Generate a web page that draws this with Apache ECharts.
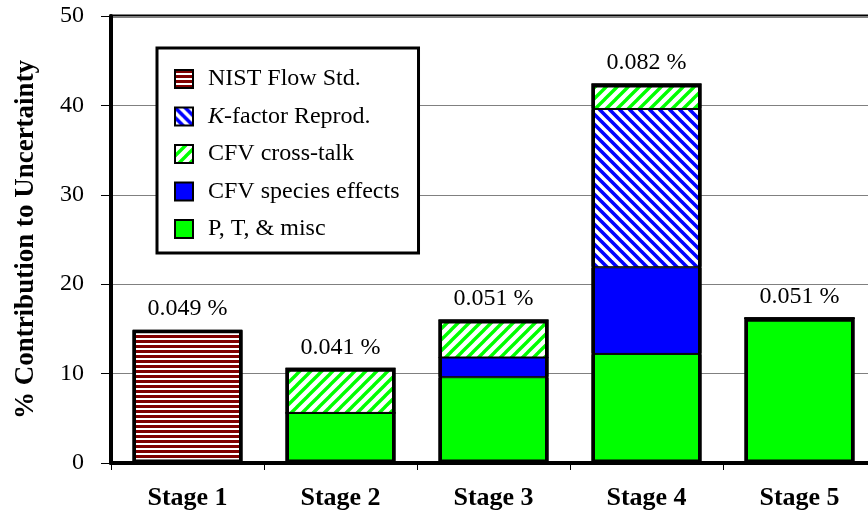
<!DOCTYPE html>
<html>
<head>
<meta charset="utf-8">
<script src="https://cdn.jsdelivr.net/npm/echarts@6/dist/echarts.min.js"></script>
<style>html,body{margin:0;padding:0;background:#fff;}#c{width:868px;height:514px;}</style>
</head>
<body>
<div id="c"></div>
<script>
const categories = ['Stage 1', 'Stage 2', 'Stage 3', 'Stage 4', 'Stage 5'];
const ptMisc     = [0, 5.6, 9.6, 12.2, 16.2];
const cfvSpecies = [0, 0, 2.2, 9.7, 0];
const kFactor    = [0, 0, 0, 17.7, 0];
const crossTalk  = [0, 5.0, 4.2, 2.8, 0];
const nistFlow   = [14.9, 0, 0, 0, 0];
const totalLabels = ['0.049 %', '0.041 %', '0.051 %', '0.082 %', '0.051 %'];
const yTicks = [0, 10, 20, 30, 40, 50];

const totals = categories.map((_, i) => ptMisc[i] + cfvSpecies[i] + kFactor[i] + crossTalk[i] + nistFlow[i]);

function pattern(kind) {
  const c = document.createElement('canvas');
  const ctx = c.getContext('2d');
  if (kind === 'horiz') {
    c.width = 8; c.height = 5;
    ctx.fillStyle = '#ffffff'; ctx.fillRect(0, 0, 8, 5);
    ctx.fillStyle = '#800000'; ctx.fillRect(0, 0, 8, 3);
  } else {
    const s = kind === 'down' ? 10 : 11;
    c.width = s; c.height = s;
    ctx.fillStyle = '#ffffff'; ctx.fillRect(0, 0, s, s);
    ctx.strokeStyle = kind === 'down' ? '#0000ff' : '#00ff00';
    ctx.lineWidth = kind === 'down' ? 3.6 : 3.4;
    ctx.beginPath();
    for (let k = -1; k <= 1; k++) {
      if (kind === 'down') {
        ctx.moveTo(k * s - 1, -1); ctx.lineTo(k * s + s + 1, s + 1);
      } else {
        ctx.moveTo(k * s - 1, s + 1); ctx.lineTo(k * s + s + 1, -1);
      }
    }
    ctx.stroke();
  }
  return { image: c, repeat: 'repeat' };
}

const serif = '"Liberation Serif", "Times New Roman", serif';
const segStyle = (color) => ({ color: color, borderColor: '#000', borderWidth: 1 });
const BW = 110;

const chart = echarts.init(document.getElementById('c'), null, { renderer: 'canvas' });
chart.setOption({
  animation: false,
  backgroundColor: '#fff',
  grid: { left: 111, top: 16, right: -8, bottom: 51, outerBoundsMode: 'none', containLabel: false,
    show: true, borderColor: '#000', borderWidth: 3, backgroundColor: 'transparent' },
  legend: {
    left: 157, top: 48, orient: 'vertical',
    data: ['NIST Flow Std.', 'K-factor Reprod.', 'CFV cross-talk', 'CFV species effects', 'P, T, & misc'],
    backgroundColor: '#fff', borderColor: '#000', borderWidth: 3,
    padding: [19, 19, 12, 17],
    itemWidth: 18, itemHeight: 18, itemGap: 13.5,
    icon: 'rect',
    itemStyle: { borderColor: '#000', borderWidth: 2 },
    textStyle: { fontFamily: serif, fontSize: 24, color: '#000', lineHeight: 24, padding: [0, 0, 0, 10],
      rich: { i: { fontFamily: serif, fontSize: 24, fontStyle: 'italic', color: '#000' }, n: { fontFamily: serif, fontSize: 24, color: '#000' } } },
    formatter: (name) => name === 'K-factor Reprod.' ? '{i|K}{n|-factor Reprod.}' : name
  },
  xAxis: {
    type: 'category', data: categories,
    axisLine: { lineStyle: { color: '#000', width: 4 } },
    axisTick: { show: true, alignWithLabel: false, length: 7, lineStyle: { color: '#000', width: 1 } },
    axisLabel: { fontFamily: serif, fontWeight: 'bold', fontSize: 26, color: '#000', margin: 22 }
  },
  yAxis: {
    type: 'value', min: 0, max: 50, interval: 10,
    name: '% Contribution to Uncertainty', nameLocation: 'middle', nameGap: 71,
    nameTextStyle: { fontFamily: serif, fontWeight: 'bold', fontSize: 27, color: '#000' },
    axisLine: { show: true, lineStyle: { color: '#000', width: 4 } },
    axisTick: { show: true, length: 10, lineStyle: { color: '#000', width: 1 } },
    axisLabel: { fontFamily: serif, fontSize: 24, color: '#000', margin: 27,
      formatter: (v) => yTicks.indexOf(v) >= 0 ? String(v) : '' },
    splitLine: { show: true, lineStyle: { color: '#808080', width: 1 } }
  },
  series: [
    { name: 'P, T, & misc', type: 'bar', stack: 'a', barWidth: BW, data: ptMisc, itemStyle: segStyle('#00ff00') },
    { name: 'CFV species effects', type: 'bar', stack: 'a', barWidth: BW, data: cfvSpecies, itemStyle: segStyle('#0000ff') },
    { name: 'K-factor Reprod.', type: 'bar', stack: 'a', barWidth: BW, data: kFactor, itemStyle: segStyle(pattern('down')) },
    { name: 'CFV cross-talk', type: 'bar', stack: 'a', barWidth: BW, data: crossTalk, itemStyle: segStyle(pattern('up')) },
    { name: 'NIST Flow Std.', type: 'bar', stack: 'a', barWidth: BW, data: nistFlow, itemStyle: segStyle(pattern('horiz')) },
    { name: 'outline', type: 'bar', barWidth: BW, barGap: '-100%', data: totals, silent: true,
      itemStyle: { color: 'rgba(0,0,0,0)', borderColor: '#000', borderWidth: 3.5 },
      label: { show: true, position: 'top', distance: 9, fontFamily: serif, fontSize: 24, color: '#000',
        formatter: (p) => totalLabels[p.dataIndex] } }
  ]
});
</script>
</body>
</html>
